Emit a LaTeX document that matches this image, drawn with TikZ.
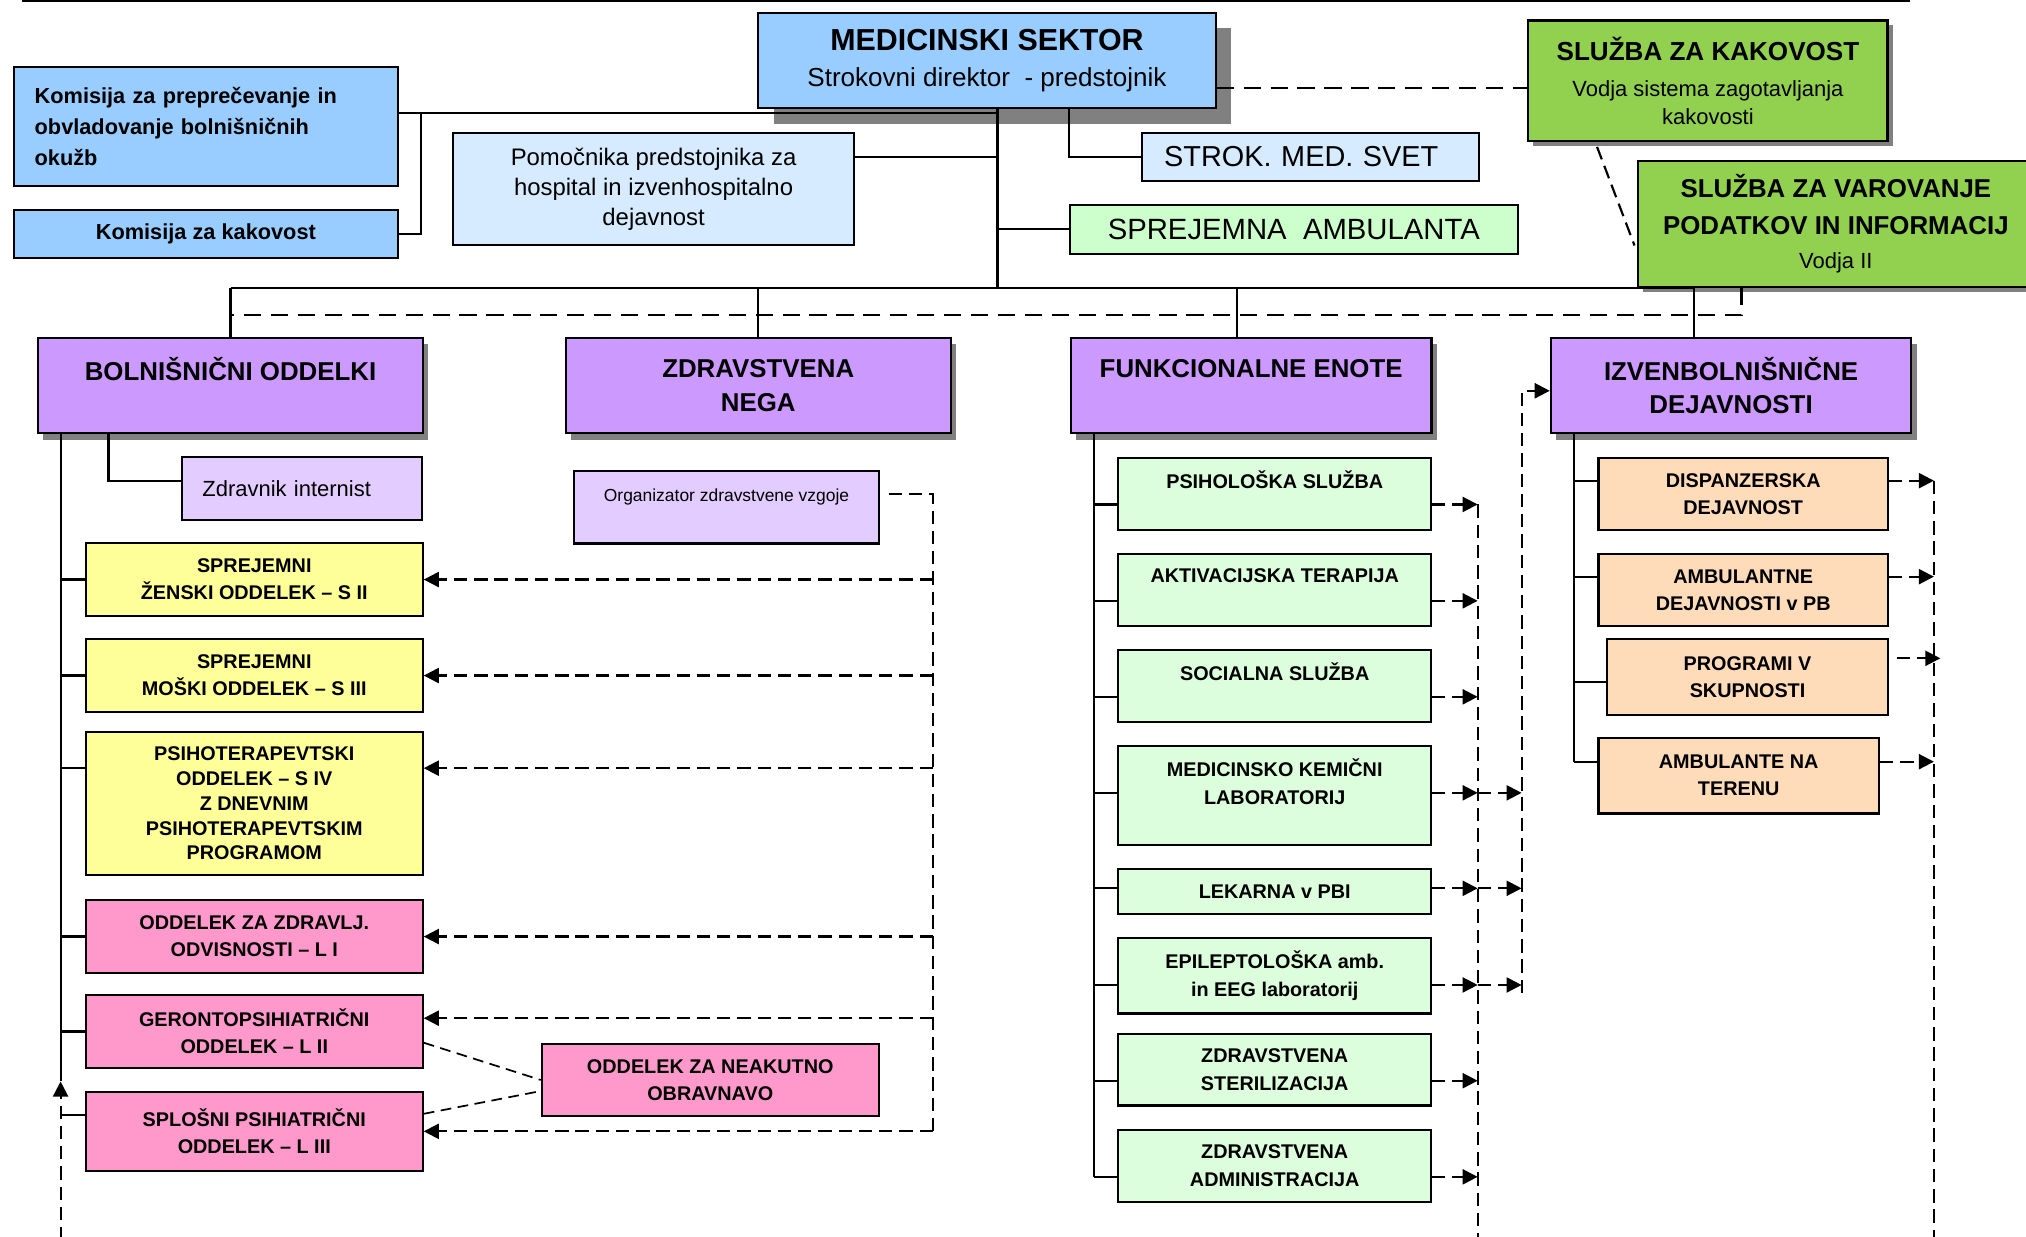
\documentclass[tikz,border=0pt]{standalone}
\usepackage{fontspec}
\setmainfont{Liberation Sans}
\usetikzlibrary{shadows}
\usetikzlibrary{arrows.meta}
\usetikzlibrary{calc}

\definecolor{medblue}{HTML}{99CCFF}
\definecolor{paleblue}{HTML}{D6EBFF}
\definecolor{palegreen}{HTML}{CCFFCC}
\definecolor{mintgreen}{HTML}{DCFEDC}
\definecolor{kakgreen}{HTML}{92D050}
\definecolor{lilac}{HTML}{CC99FF}
\definecolor{palelilac}{HTML}{E3CCFF}
\definecolor{wardyellow}{HTML}{FFFF99}
\definecolor{wardpink}{HTML}{FF99CC}
\definecolor{peach}{HTML}{FFDCB9}

\begin{document}
\begin{tikzpicture}[x=0.6pt,y=-0.6pt]
	\tikzstyle{box}=[draw, line width=1pt, anchor=north west, align=center, inner sep=2pt]
	\tikzstyle{unit}=[box, font=\fontsize{9.2}{12.6}\selectfont\bfseries]
	\tikzstyle{fe}=[unit, fill=mintgreen, font=\fontsize{9.2}{13}\selectfont\bfseries]
	\tikzstyle{head}=[box, fill=lilac, font=\fontsize{12}{15.6}\selectfont\bfseries, drop shadow={shadow xshift=2.4pt,shadow yshift=-3pt,fill=black!50,opacity=1}]
	\tikzstyle{slshadow}=[drop shadow={shadow xshift=2.3pt,shadow yshift=-2.3pt,fill=black!50,opacity=1}]
	\tikzstyle{link}=[line width=1pt]
	\tikzstyle{lodash}=[line width=1pt, dash pattern=on 6.2pt off 3.2pt]
	\tikzstyle{updash}=[line width=1pt, dash pattern=on 8pt off 4.5pt]
	\tikzstyle{neakdash}=[line width=0.8pt, dash pattern=on 5pt off 3pt]
	\tikzstyle{arr}=[-{Triangle[length=7pt,width=7pt]}]
	\tikzset{sz/.style 2 args={minimum width=#1*0.6pt, minimum height=#2*0.6pt}}

	\useasboundingbox (0,0) rectangle (1568,957);
	\draw[line width=1.2pt] (17,0.6) -- (1478,0.6);

	% vodstvo
	\node[box, fill=medblue, sz={354}{74}, font=\fontsize{12.1}{16.8}\selectfont,
		drop shadow={shadow xshift=7.2pt,shadow yshift=-7.2pt,fill=black!50,opacity=1}] (med) at (586,9)
		{{\fontsize{14.1}{17}\selectfont\bfseries MEDICINSKI SEKTOR}\\Strokovni direktor~ - predstojnik};
	\node[box, fill=medblue, sz={297}{92}, align=left, inner xsep=9.4pt, text width=159pt,
		font=\fontsize{10.1}{14.3}\selectfont\bfseries] (kom1) at (10,51)
		{Komisija za preprečevanje in\\obvladovanje bolnišničnih\\okužb};
	\node[box, fill=medblue, sz={297}{37}, font=\fontsize{10.1}{12}\selectfont\bfseries] (kom2) at (10,162) {Komisija za kakovost};
	\node[box, fill=paleblue, sz={310}{87}, font=\fontsize{11.1}{13.8}\selectfont] (pomoc) at (350,102)
		{Pomočnika predstojnika za\\hospital in izvenhospitalno\\dejavnost};
	\node[box, fill=paleblue, sz={261}{37}, align=left, inner xsep=9.6pt, text width=136pt,
		font=\fontsize{13.4}{16}\selectfont] (strok) at (883,102) {STROK. MED. SVET};
	\node[box, fill=palegreen, sz={347}{38}, font=\fontsize{13.6}{16}\selectfont] (sprejamb) at (827,157.5) {SPREJEMNA~ AMBULANTA};
	\node[box, fill=kakgreen, sz={278}{93}, slshadow, font=\fontsize{10.2}{13}\selectfont] (kakov) at (1182,15)
		{{\fontsize{12.1}{14}\selectfont\bfseries SLUŽBA ZA KAKOVOST}\\[3.8pt]Vodja sistema zagotavljanja\\kakovosti};
	\node[box, fill=kakgreen, sz={306}{97}, slshadow, font=\fontsize{12}{17}\selectfont\bfseries] (varov) at (1267,124)
		{SLUŽBA ZA VAROVANJE\\PODATKOV IN INFORMACIJ\\[-1.2pt]{\mdseries\fontsize{10.2}{13}\selectfont Vodja II}};

	% glavne enote
	\node[head, sz={298}{74}] (boln) at (28.6,260.6) {BOLNIŠNIČNI ODDELKI\\\mbox{}};
	\node[head, sz={298}{74}] (nega) at (437,260.6) {ZDRAVSTVENA\\NEGA};
	\node[head, sz={279}{74}] (funk) at (828,260.6) {FUNKCIONALNE ENOTE\\\mbox{}};
	\node[head, sz={279}{74}] (izven) at (1199.4,260.6) {IZVENBOLNIŠNIČNE\\DEJAVNOSTI};

	% oddelki
	\node[box, fill=palelilac, sz={186}{48.7}, align=left, inner xsep=9.5pt, text width=92.6pt,
		font=\fontsize{10.2}{12}\selectfont] (intern) at (140,353) {Zdravnik internist};
	\node[box, fill=palelilac, sz={235.5}{56}, font=\fontsize{8.1}{11.4}\selectfont] (org) at (443.7,363.8)
		{Organizator zdravstvene vzgoje\\\mbox{}};
	\node[unit, fill=wardyellow, sz={260.7}{56}] (szen) at (65.6,419.7) {SPREJEMNI\\ŽENSKI ODDELEK – S II};
	\node[unit, fill=wardyellow, sz={260.7}{56}] (smos) at (65.6,494) {SPREJEMNI\\MOŠKI ODDELEK – S III};
	\node[unit, fill=wardyellow, sz={260.7}{111}, font=\fontsize{9.2}{11.5}\selectfont\bfseries] (pst4) at (65.6,565.5)
		{PSIHOTERAPEVTSKI\\ODDELEK – S IV\\Z DNEVNIM\\PSIHOTERAPEVTSKIM\\PROGRAMOM};
	\node[unit, fill=wardpink, sz={260.7}{56}] (odv) at (65.6,696) {ODDELEK ZA ZDRAVLJ.\\ODVISNOSTI – L I};
	\node[unit, fill=wardpink, sz={260.7}{56}] (ger) at (65.6,769.5) {GERONTOPSIHIATRIČNI\\ODDELEK – L II};
	\node[unit, fill=wardpink, sz={260.7}{61.5}] (spl) at (65.6,844) {SPLOŠNI PSIHIATRIČNI\\ODDELEK – L III};
	\node[unit, fill=wardpink, sz={260.7}{56}] (neak) at (418.5,807) {ODDELEK ZA NEAKUTNO\\OBRAVNAVO};

	% funkcionalne enote
	\node[fe, sz={242}{56}] (psi) at (864.7,353.4) {PSIHOLOŠKA SLUŽBA\\\mbox{}};
	\node[fe, sz={242}{56}] (akt) at (864.7,427.7) {AKTIVACIJSKA TERAPIJA\\\mbox{}};
	\node[fe, sz={242}{55.5}] (soc) at (864.7,502.3) {SOCIALNA SLUŽBA\\\mbox{}};
	\node[fe, sz={242}{76.8}] (lab) at (864.7,576.6) {MEDICINSKO KEMIČNI\\LABORATORIJ\\\mbox{}};
	\node[fe, sz={242}{34.4}] (lek) at (864.7,672) {LEKARNA v PBI};
	\node[fe, sz={242}{58.5}] (epi) at (864.7,725) {EPILEPTOLOŠKA amb.\\in EEG laboratorij};
	\node[fe, sz={242}{55.5}] (ster) at (864.7,799.2) {ZDRAVSTVENA\\STERILIZACIJA};
	\node[fe, sz={242}{55.4}] (adm) at (864.7,873.8) {ZDRAVSTVENA\\ADMINISTRACIJA};

	% izvenbolnisnicne
	\node[unit, fill=peach, sz={224}{56}] (disp) at (1236.3,353.4) {DISPANZERSKA\\DEJAVNOST};
	\node[unit, fill=peach, sz={224}{56}] (amb) at (1236.3,427.7) {AMBULANTNE\\DEJAVNOSTI v PB};
	\node[unit, fill=peach, sz={217.3}{58.6}] (prog) at (1243,494) {PROGRAMI V\\SKUPNOSTI};
	\node[unit, fill=peach, sz={217}{58.5}] (ter) at (1236.3,570.2) {AMBULANTE NA\\TERENU};

	% povezave zgoraj
	\coordinate (bus) at (772,223);
	\coordinate (jk) at (325.7,87.7);
	\coordinate (fdrop) at (957.3,223);
	\coordinate (idrop) at (1310.8,223);
	\draw[link] (med.south -| bus) -- (bus);
	\draw[link] (kom1.east |- jk) -- (jk -| bus);
	\draw[link] (kom2.east) -| (jk);
	\draw[link] (pomoc.east |- strok.west) -- (strok.west -| bus);
	\draw[link] (med.south -| sprejamb.west) |- (strok.west);
	\draw[link] (bus |- sprejamb.west) -- (sprejamb.west);
	\draw[link] (boln.north |- bus) -- (idrop);
	\draw[link] (boln.north |- bus) -- (boln.north);
	\draw[link] (nega.north |- bus) -- (nega.north);
	\draw[link] (fdrop) -- (fdrop |- funk.north);
	\draw[link] (idrop) -- (idrop |- izven.north);

	\coordinate (kq) at ($(kakov.north west)+(0,53.4)$);
	\draw[updash] (med.east |- kq) -- (kq);
	\draw[lodash] ($(kakov.south west)+(54,4)$) -- ($(varov.north west)+(-2,66)$);
	\coordinate (vd) at (1347.8,243.8);
	\draw[updash] (varov.south -| vd) -- (vd) -- (vd -| boln.north);

	% bolnisnicni oddelki
	\coordinate (bt) at (46.9,837);
	\coordinate (bbot) at (46.9,960);
	\draw[link] (boln.south -| bt) -- (bt);
	\draw[lodash,arr] (bbot) -- (bt);
	\coordinate (p4) at ($(pst4.north west)+(0,29)$);
	\coordinate (sl) at ($(spl.north west)+(0,19.2)$);
	\foreach \n in {szen,smos,odv,ger} \draw[link] (bt |- \n.west) -- (\n.west);
	\draw[link] (bt |- p4) -- (p4);
	\draw[link] (bt |- sl) -- (sl);
	\draw[link] ($(boln.south west)+(55.4,0)$) |- ($(intern.north west)+(0,19.4)$);

	\coordinate (ot) at (722,382.3);
	\draw[lodash] ($(org.north east)+(7,18.5)$) -- (ot) -- (ot |- spl.east);
	\coordinate (p4r) at ($(pst4.north east)+(0,29)$);
	\coordinate (g2) at ($(ger.north east)+(0,18.5)$);
	\foreach \n in {szen,smos,odv,spl} \draw[lodash,arr] (ot |- \n.east) -- (\n.east);
	\draw[lodash,arr] (ot |- p4r) -- (p4r);
	\draw[lodash,arr] (ot |- g2) -- (g2);
	\draw[neakdash] ($(ger.north east)+(0,37.5)$) -- (neak.west);
	\draw[neakdash] ($(spl.north east)+(0,18)$) -- ($(neak.north west)+(0,37.4)$);

	% funkcionalne enote
	\coordinate (fx) at ($(funk.south west)+(18.4,0)$);
	\coordinate (l1) at (1143.6,960);
	\coordinate (l2) at (1177.6,768.5);
	\foreach \n/\dy in {psi/37,akt/37.3,soc/37,lab/37,lek/15.5,epi/37.3,ster/37.2,adm/37}{
		\coordinate (b\n) at ($(\n.north west)+(0,\dy)$);
		\draw[link] (fx |- b\n) -- (b\n);
		\draw[lodash,arr] (b\n -| \n.east) -- (b\n -| l1);
	}
	\draw[link] (fx) -- (fx |- badm);
	\draw[lodash] (bpsi -| l1) -- (l1);
	\foreach \n in {lab,lek,epi} \draw[lodash,arr] (b\n -| l1) -- (b\n -| l2);
	\draw[lodash,arr] (l2) |- ($(izven.west)+(0,4)$);

	% izvenbolnisnicne dejavnosti
	\coordinate (ix) at ($(izven.south west)+(18.6,0)$);
	\coordinate (l3) at (1496.7,960);
	\foreach \n/\dy in {disp/18.6,amb/18.6,prog/34,ter/19.3}{
		\coordinate (b\n) at ($(\n.north west)+(0,\dy)$);
		\draw[link] (ix |- b\n) -- (b\n);
	}
	\draw[link] (ix) -- (ix |- bter);
	\foreach \n in {disp,amb,ter} \draw[lodash,arr] (b\n -| \n.east) -- (b\n -| l3);
	\coordinate (pa) at ($(prog.north east)+(6,15.5)$);
	\coordinate (pe) at ($(pa -| l3)+(5,0)$);
	\draw[lodash,arr] (pa) -- (pe);
	\draw[lodash] (bdisp -| l3) -- (l3);
\end{tikzpicture}
\end{document}
